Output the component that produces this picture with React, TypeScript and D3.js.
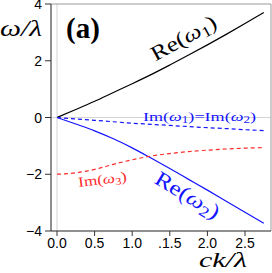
import * as d3 from 'd3'

// values
const ck = [0, 0.25, 0.5, 0.75, 1.0, 1.25, 1.5, 1.75, 2.0, 2.25, 2.5, 2.75]
const reW1 = [0, 0.28, 0.57, 0.88, 1.19, 1.51, 1.85, 2.2, 2.56, 2.93, 3.31, 3.7]
const reW2 = [0, -0.23, -0.47, -0.75, -1.07, -1.43, -1.8, -2.18, -2.56, -2.95, -3.34, -3.73]
const imW12 = [0, -0.05, -0.1, -0.15, -0.2, -0.24, -0.28, -0.32, -0.36, -0.39, -0.43, -0.46]
const imW3 = [-2, -1.95, -1.83, -1.65, -1.49, -1.36, -1.27, -1.2, -1.15, -1.11, -1.08, -1.06]

const xTicks = [0, 0.5, 1, 1.5, 2, 2.5]
const xTickLabels = ['0.0', '0.5', '1.0', '.1.5', '2.0', '2.5']
const yTicks = [-4, -2, 0, 2, 4]

const W = 272
const H = 273
const serif = 'Liberation Serif, Times New Roman, serif'
const sans = 'Liberation Sans, Arial, sans-serif'
const blue = '#1414ff'
const red = '#ff2a2a'

const x = d3.scaleLinear().domain([-0.08, 2.846]).range([51, 271])
const y = d3.scaleLinear().domain([-4, 4]).range([231, 4])

const line = d3
  .line<number>()
  .x((_, i) => x(ck[i]))
  .y((d) => y(d))
  .curve(d3.curveMonotoneX)

const Sub = ({ children }: { children: string }) => (
  <tspan fontSize="0.72em" dy="0.25em">{children}</tspan>
)

export default function App() {
  const [x0, x1] = x.range()
  const [y0, y1] = y.range()
  return (
    <svg width={W} height={H} style={{ position: 'absolute', left: 0, top: 0 }}>
      <rect width={W} height={H} fill="white" />
      {/* zero lines */}
      <line x1={x(0)} x2={x(0)} y1={y1} y2={y0} stroke="#d4d4d4" strokeWidth={1} />
      <line x1={x0} x2={x1} y1={y(0)} y2={y(0)} stroke="#d4d4d4" strokeWidth={1} />
      {/* frame */}
      <line x1={x0} x2={x1} y1={y1} y2={y1} stroke="#999" />
      <line x1={x1} x2={x1} y1={y1} y2={y0} stroke="#999" />
      <line x1={x0} x2={x0} y1={y1} y2={y0} stroke="#444" strokeWidth={1.2} />
      <line x1={x0} x2={x1} y1={y0} y2={y0} stroke="#222" strokeWidth={1.2} />

      {yTicks.map((t) => (
        <g key={t}>
          <line x1={x0 - 6} x2={x0} y1={y(t)} y2={y(t)} stroke="#333" />
          <text x={42} y={y(t)} dy="0.36em" textAnchor="end" fontFamily={sans} fontSize={14}>
            {t < 0 ? '\u2212' + Math.abs(t) : t}
          </text>
        </g>
      ))}
      {xTicks.map((t, i) => (
        <g key={t}>
          <line x1={x(t)} x2={x(t)} y1={y0} y2={y0 + 5} stroke="#333" />
          <text x={x(t)} y={248} textAnchor="middle" fontFamily={sans} fontSize={14}>
            {xTickLabels[i]}
          </text>
        </g>
      ))}

      {/* curves */}
      <path d={line(reW1) ?? ''} fill="none" stroke="#000" strokeWidth={1.2} />
      <path d={line(reW2) ?? ''} fill="none" stroke={blue} strokeWidth={1.2} />
      <path d={line(imW12) ?? ''} fill="none" stroke={blue} strokeWidth={1.2} strokeDasharray="4,3" />
      <path d={line(imW3) ?? ''} fill="none" stroke={red} strokeWidth={1.2} strokeDasharray="4,3" />

      {/* labels */}
      <text x={66} y={38} fontFamily={serif} fontWeight="bold" fontSize={29}>(a)</text>
      <text x={0} y={36} fontFamily={serif} fontStyle="italic" fontSize={23} textLength={42} lengthAdjust="spacingAndGlyphs">ω/λ</text>
      <text x={199} y={267} fontFamily={serif} fontStyle="italic" fontSize={21} textLength={48} lengthAdjust="spacingAndGlyphs">ck/λ</text>

      <text transform="translate(187,44) rotate(-29)" textAnchor="middle" fontFamily={serif} fontSize={21} textLength={72} lengthAdjust="spacingAndGlyphs">
        Re(<tspan fontStyle="italic">ω</tspan><Sub>1</Sub><tspan dy="-0.18em">)</tspan>
      </text>
      <text transform="translate(184,201) rotate(31)" textAnchor="middle" fontFamily={serif} fontSize={21} fill={blue} textLength={72} lengthAdjust="spacingAndGlyphs">
        Re(<tspan fontStyle="italic">ω</tspan><Sub>2</Sub><tspan dy="-0.18em">)</tspan>
      </text>
      <text x={143} y={121} fontFamily={serif} fontSize={13} fill={blue} textLength={113} lengthAdjust="spacingAndGlyphs">
        Im(<tspan fontStyle="italic">ω</tspan><Sub>1</Sub><tspan dy="-0.18em">)=Im(</tspan>
        <tspan fontStyle="italic">ω</tspan><Sub>2</Sub><tspan dy="-0.18em">)</tspan>
      </text>
      <text transform="translate(103,184) rotate(-7)" textAnchor="middle" fontFamily={serif} fontSize={14} fill={red} textLength={49} lengthAdjust="spacingAndGlyphs">
        Im(<tspan fontStyle="italic">ω</tspan><Sub>3</Sub><tspan dy="-0.18em">)</tspan>
      </text>
    </svg>
  )
}
